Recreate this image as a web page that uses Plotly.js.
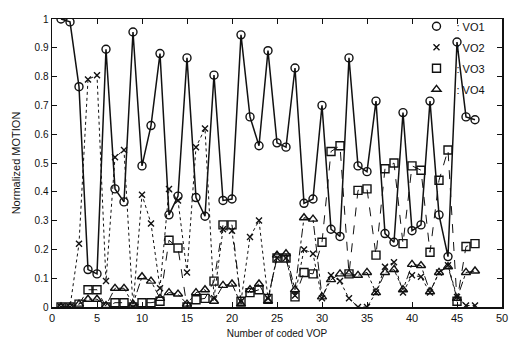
<!DOCTYPE html>
<html>
<head>
<meta charset="utf-8">
<script src="https://cdn.plot.ly/plotly-3.0.1.min.js"></script>
<style>html,body{margin:0;padding:0;background:#fff;}#chart{width:532px;height:344px;}</style>
</head>
<body>
<div id="chart"></div>
<script>
var frames = [];
for (var i = 1; i <= 47; i++) frames.push(i);

var vo1 = [1.0, 0.99, 0.765, 0.13, 0.115, 0.895, 0.41, 0.365, 0.955, 0.49,
           0.63, 0.88, 0.32, 0.385, 0.865, 0.38, 0.315, 0.805, 0.37, 0.375,
           0.945, 0.66, 0.56, 0.89, 0.57, 0.555, 0.83, 0.36, 0.375, 0.70,
           0.27, 0.245, 0.865, 0.49, 0.47, 0.715, 0.255, 0.225, 0.675, 0.265,
           0.285, 0.715, 0.32, 0.175, 0.92, 0.66, 0.65];
var vo2 = [0.0, 0.0, 0.22, 0.79, 0.805, 0.09, 0.52, 0.545, 0.0, 0.39,
           0.29, 0.065, 0.41, 0.37, 0.12, 0.555, 0.62, 0.03, 0.27, 0.265,
           0.02, 0.243, 0.30, 0.03, 0.17, 0.17, 0.04, 0.20, 0.185, 0.03,
           0.11, 0.09, 0.03, 0.0, 0.0, 0.05, 0.14, 0.155, 0.05, 0.11,
           0.105, 0.05, 0.12, 0.145, 0.035, 0.005, 0.005];
var vo3 = [0.0, 0.0, 0.01, 0.06, 0.06, 0.0, 0.015, 0.015, 0.0, 0.015,
           0.015, 0.02, 0.232, 0.205, 0.0, 0.025, 0.03, 0.09, 0.285, 0.285,
           0.02, 0.05, 0.06, 0.03, 0.17, 0.17, 0.035, 0.12, 0.115, 0.225,
           0.54, 0.56, 0.115, 0.405, 0.41, 0.18, 0.48, 0.50, 0.22, 0.49,
           0.475, 0.19, 0.44, 0.545, 0.02, 0.21, 0.22];
var vo4 = [0.0, 0.0, 0.01, 0.027, 0.027, 0.005, 0.065, 0.065, 0.01, 0.105,
           0.09, 0.03, 0.05, 0.045, 0.01, 0.05, 0.06, 0.02, 0.075, 0.08,
           0.01, 0.06, 0.08, 0.02, 0.18, 0.185, 0.06, 0.31, 0.305, 0.035,
           0.095, 0.115, 0.115, 0.11, 0.12, 0.05, 0.12, 0.13, 0.06, 0.148,
           0.144, 0.053, 0.12, 0.14, 0.03, 0.12, 0.125];

var seriesNames = [': VO1', ': VO2', ': VO3', ': VO4'];
var seriesValues = [vo1, vo2, vo3, vo4];
var symbols = ['circle-open', 'x-thin-open', 'square-open', 'triangle-up-open'];
var dashes = ['solid', 'dot', 'dash', 'dashdot'];
var widths = [1.5, 1, 1, 1];
var msizes = [8, 6, 8, 8];

var traces = [];
for (var s = 0; s < 4; s++) {
  traces.push({
    x: frames, y: seriesValues[s], type: 'scatter', mode: 'lines+markers',
    line: {color: '#111', width: widths[s], dash: dashes[s]},
    marker: {symbol: symbols[s], size: msizes[s], color: '#111', line: {width: 1.4, color: '#111'}},
    showlegend: false, hoverinfo: 'skip'
  });
}
for (var s = 0; s < 4; s++) {
  traces.push({
    x: [null], y: [null], type: 'scatter', mode: 'markers', name: seriesNames[s],
    legendgroup: 'g' + s,
    marker: {symbol: symbols[s], size: msizes[s], color: '#111', line: {width: 1.4, color: '#111'}},
    showlegend: true
  });
}

var layout = {
  width: 532, height: 344,
  margin: {l: 52, r: 30, t: 14, b: 37},
  paper_bgcolor: '#fff', plot_bgcolor: '#fff',
  font: {family: 'Liberation Sans, Arial, sans-serif', size: 10, color: '#111'},
  showlegend: true,
  legend: {x: 0.81, y: 1.025, xanchor: 'left', yanchor: 'top', bgcolor: 'rgba(0,0,0,0)',
           traceorder: 'grouped', tracegroupgap: 2, font: {size: 11, color: '#111'}, itemwidth: 30},
  xaxis: {
    range: [0, 50], tickmode: 'array', tickvals: [0,5,10,15,20,25,30,35,40,45,50],
    ticktext: ['0','5','10','15','20','25','30','35','40','45','50'],
    ticks: 'inside', ticklen: 5, tickcolor: '#111', mirror: 'ticks', showline: true,
    linecolor: '#111', linewidth: 1.5, showgrid: false, zeroline: false,
    tickfont: {size: 11},
    title: {text: 'Number of coded VOP', font: {size: 10}, standoff: 7}
  },
  yaxis: {
    range: [0, 1], tickmode: 'array', tickvals: [0,0.1,0.2,0.3,0.4,0.5,0.6,0.7,0.8,0.9,1],
    ticktext: ['0','0.1','0.2','0.3','0.4','0.5','0.6','0.7','0.8','0.9','1'],
    ticks: 'inside', ticklen: 5, tickcolor: '#111', mirror: 'ticks', showline: true,
    linecolor: '#111', linewidth: 1.5, showgrid: false, zeroline: false,
    tickfont: {size: 10},
    title: {text: 'Normalized MOTION', font: {size: 11}, standoff: 11}
  }
};

Plotly.newPlot('chart', traces, layout, {displayModeBar: false, staticPlot: true});
</script>
</body>
</html>
